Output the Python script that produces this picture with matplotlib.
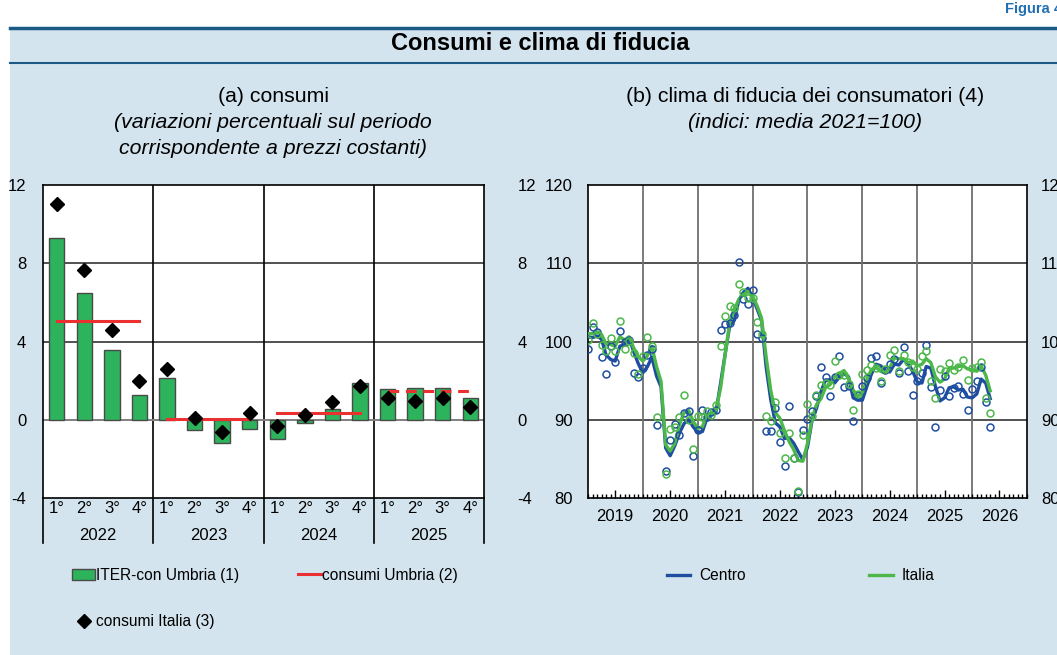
import numpy as np
import pandas as pd
import matplotlib
matplotlib.use('Agg')
import matplotlib.pyplot as plt
import matplotlib.dates as mdates
from matplotlib.patches import Rectangle, Patch
from matplotlib.lines import Line2D

plt.rcParams['font.family'] = ['Liberation Sans', 'DejaVu Sans']

# ---- (a) consumi: quarterly data 2022-2025
years = ['2022', '2023', '2024', '2025']
quarters = ['1°', '2°', '3°', '4°'] * 4
iter_umbria = [9.3, 6.5, 3.55, 1.25, 2.15, -0.5, -1.2, -0.45,
               -1.0, -0.15, 0.55, 1.9, 1.55, 1.6, 1.6, 1.1]
consumi_italia = [11.05, 7.65, 4.6, 2.0, 2.6, 0.1, -0.65, 0.35,
                  -0.3, 0.25, 0.9, 1.75, 1.1, 0.95, 1.1, 0.65]
consumi_umbria = [5.05, 0.02, 0.33, 1.48]   # annual
umbria_stima = [False, False, False, True]  # 2025 dashed

# ---- (b) clima di fiducia: monthly, Dec 2018 - Apr 2026 (Apr 2020 missing)
months = pd.period_range('2018-12', '2026-04', freq='M')
centro_pt = [99.0, 101.8, 101.2, 98.0, 95.8, 99.4, 97.4, 101.3, 100.0, 100.2, 96.0, 95.4,
             96.6, 98.3, 99.1, 89.3, np.nan, 83.4, 87.4, 89.4, 88.1, 90.9, 91.1, 85.4,
             88.7, 91.3, 90.4, 91.0, 91.3, 101.5, 102.2, 102.4, 103.4, 110.2, 105.4, 104.8,
             106.6, 101.0, 100.5, 88.6, 88.6, 91.5, 87.2, 84.1, 91.8, 85.1, 80.8, 88.7,
             90.1, 91.1, 93.0, 96.7, 95.5, 93.0, 95.5, 98.1, 94.2, 94.3, 89.9, 93.2,
             94.3, 95.3, 97.9, 98.2, 94.7, 96.4, 97.1, 97.8, 96.0, 99.3, 96.2, 93.2,
             94.9, 96.0, 99.6, 94.2, 89.1, 93.8, 95.6, 93.0, 94.0, 94.3, 93.3, 91.2,
             93.9, 94.9, 96.8, 92.3, 89.1]
italia_pt = [100.2, 102.4, 100.9, 99.5, 98.8, 100.5, 98.8, 102.6, 99.1, 100.1, 98.5, 95.8,
             98.2, 100.6, 99.4, 90.4, np.nan, 83.1, 88.8, 89.1, 90.4, 93.1, 90.0, 86.3,
             90.5, 90.4, 91.1, 90.6, 91.9, 99.4, 103.3, 104.6, 104.3, 107.3, 106.3, 105.5,
             105.5, 102.5, 100.9, 90.5, 89.9, 92.3, 88.3, 85.1, 88.3, 85.1, 80.9, 88.0,
             92.0, 90.5, 93.2, 94.4, 94.7, 94.4, 97.5, 95.7, 95.7, 94.6, 91.2, 93.3,
             95.9, 96.4, 97.0, 96.6, 95.0, 96.5, 98.3, 98.9, 96.2, 98.3, 97.4, 96.7,
             96.5, 98.2, 98.8, 95.0, 92.8, 96.5, 96.2, 97.2, 96.3, 96.8, 97.6, 95.1,
             96.6, 96.8, 97.4, 92.8, 90.8]
# 3-month moving averages as drawn in the chart
centro_mm = [100.6, 100.5, 100.7, 100.3, 98.3, 97.7, 97.5, 99.4, 99.6, 100.5, 98.7, 97.2,
             96.0, 96.8, 98.0, 95.6, 94.2, 86.4, 85.4, 86.7, 88.3, 89.5, 90.0, 89.1,
             88.4, 88.5, 90.1, 90.9, 90.9, 94.6, 98.3, 102.0, 102.7, 105.3, 106.3, 106.8,
             105.6, 104.1, 102.7, 96.7, 92.6, 89.6, 89.1, 87.6, 87.7, 87.0, 85.9, 84.9,
             86.5, 90.0, 91.4, 93.6, 95.1, 95.1, 94.7, 95.5, 95.9, 95.5, 92.8, 92.5,
             92.5, 94.3, 95.8, 97.1, 96.9, 96.4, 96.1, 97.1, 97.0, 97.7, 97.2, 96.2,
             94.8, 94.7, 96.8, 96.6, 94.3, 92.4, 92.8, 94.1, 94.2, 93.8, 93.9, 92.9,
             92.8, 93.3, 95.2, 94.7, 92.7]
italia_mm = [101.0, 101.0, 101.2, 100.9, 99.7, 99.6, 99.4, 100.6, 100.2, 100.6, 99.2, 98.1,
             97.5, 98.2, 99.4, 96.8, 94.9, 86.8, 86.0, 87.0, 89.4, 90.9, 91.2, 89.8,
             88.9, 89.1, 90.7, 90.7, 91.2, 94.0, 98.2, 102.4, 104.1, 105.4, 106.0, 106.4,
             105.8, 104.5, 103.0, 98.0, 93.8, 90.9, 90.2, 88.6, 87.2, 86.2, 84.8, 84.7,
             87.0, 90.2, 91.9, 92.7, 94.1, 94.5, 95.5, 95.9, 96.3, 95.3, 93.8, 93.0,
             93.5, 95.2, 96.4, 96.7, 96.2, 96.0, 96.6, 97.9, 97.8, 97.8, 97.3, 97.5,
             96.9, 97.1, 97.8, 97.3, 95.5, 94.8, 95.2, 96.6, 96.6, 96.8, 96.9, 96.5,
             96.4, 96.2, 96.9, 95.7, 93.7]

BG = '#d3e4ee'
DARK = '#1b5a87'
W, H = 1057, 655
FS_SUB = 15.3
FS_TICK = 12
FS_LEG = 11.2

fig = plt.figure(figsize=(W / 100, H / 100), dpi=100, facecolor='white')
fig.patches.append(Rectangle((10 / W, 0), 1, 1 - 28 / H, transform=fig.transFigure,
                             facecolor=BG, edgecolor='none', zorder=-5))
fig.add_artist(Line2D([10 / W, 1], [1 - 28 / H] * 2, color=DARK, lw=2.5))
fig.add_artist(Line2D([10 / W, 1], [1 - 63 / H] * 2, color=DARK, lw=1.5))
fig.text(1005 / W, 1 - 9 / H, 'Figura 4.', color='#1f6fb2', fontsize=10.5,
         fontweight='bold', va='center', ha='left')
fig.text(540 / W, 1 - 43 / H, 'Consumi e clima di fiducia', fontsize=17,
         fontweight='bold', ha='center', va='center')

fig.text(273 / W, 1 - 97 / H, '(a) consumi', fontsize=FS_SUB, ha='center', va='center')
fig.text(273 / W, 1 - 122 / H, '(variazioni percentuali sul periodo', fontsize=FS_SUB,
         style='italic', ha='center', va='center')
fig.text(273 / W, 1 - 148 / H, 'corrispondente a prezzi costanti)', fontsize=FS_SUB,
         style='italic', ha='center', va='center')
fig.text(805 / W, 1 - 97 / H, '(b) clima di fiducia dei consumatori (4)', fontsize=FS_SUB,
         ha='center', va='center')
fig.text(805 / W, 1 - 122 / H, '(indici: media 2021=100)', fontsize=FS_SUB,
         style='italic', ha='center', va='center')

# ---------------- panel (a)
ax1 = fig.add_axes([43 / W, 1 - 498 / H, 441 / W, 313 / H])
ax1.set_facecolor('white')
x = np.arange(len(iter_umbria))
ax1.set_xlim(-0.5, len(x) - 0.5)
ax1.set_ylim(-4, 12)
for yv in (4, 8):
    ax1.axhline(yv, color='#333333', lw=1.2, zorder=0)
for xv in (3.5, 7.5, 11.5):
    ax1.axvline(xv, color='black', lw=1.2, zorder=0)
ax1.axhline(0, color='#808080', lw=1.4, zorder=1)
ax1.bar(x, iter_umbria, width=0.56, color='#2cb35b', edgecolor='#4a4a4a', lw=1.0, zorder=2)
for i, (val, est) in enumerate(zip(consumi_umbria, umbria_stima)):
    ax1.plot([4 * i, 4 * i + 3], [val, val], color='#ea3030', lw=2.2, zorder=3,
             ls=(0, (3.5, 2.2)) if est else '-')
ax1.plot(x, consumi_italia, ls='none', marker='D', ms=7.5, color='black', zorder=4)

ax1.set_yticks([-4, 0, 4, 8, 12])
ax1.set_yticklabels(['-4', '0', '4', '8', '12'])
ax1.tick_params(axis='y', length=0, labelsize=FS_TICK, pad=12)
ax1.set_xticks([])
sec = ax1.secondary_yaxis('right')
sec.set_yticks([-4, 0, 4, 8, 12])
sec.set_yticklabels(['-4', '0', '4', '8', '12'])
sec.tick_params(length=0, labelsize=FS_TICK, pad=24)
sec.spines['right'].set_visible(False)
for s in ax1.spines.values():
    s.set_color('black')
    s.set_linewidth(1.2)

tr = ax1.get_xaxis_transform()
for i, q in enumerate(quarters):
    ax1.text(i, -0.033, q, transform=tr, ha='center', va='center', fontsize=FS_TICK)
for j, yr in enumerate(years):
    ax1.text(4 * j + 1.5, -0.12, yr, transform=tr, ha='center', va='center', fontsize=FS_TICK)
for xv in (-0.5, 3.5, 7.5, 11.5, 15.5):
    ax1.plot([xv, xv], [0, -0.145], transform=tr, color='black', lw=1.2, clip_on=False)

# ---------------- panel (b)
ax2 = fig.add_axes([588 / W, 1 - 498 / H, 439 / W, 313 / H])
ax2.set_facecolor('white')
dates = months.to_timestamp(how='end')
ax2.set_xlim(pd.Timestamp('2019-01-01'), pd.Timestamp('2027-01-01'))
ax2.set_ylim(80, 120)
for yv in (90, 100, 110):
    ax2.axhline(yv, color='#333333', lw=1.2, zorder=0)
for yr in range(2020, 2027):
    ax2.axvline(pd.Timestamp(f'{yr}-01-01'), color='#707070', lw=1.3, zorder=0)

ax2.plot(dates, centro_mm, color='#1f4ea1', lw=2.4, zorder=3)
ax2.plot(dates, italia_mm, color='#4cb84a', lw=2.4, zorder=4)
ax2.plot(dates, centro_pt, ls='none', marker='o', ms=5, mfc='none', mec='#1f4ea1',
         mew=1.1, zorder=5)
ax2.plot(dates, italia_pt, ls='none', marker='o', ms=5, mfc='none', mec='#4cb84a',
         mew=1.1, zorder=6)

ax2.xaxis.set_major_locator(mdates.MonthLocator(bymonth=7))
ax2.xaxis.set_major_formatter(mdates.DateFormatter('%Y'))
ax2.xaxis.set_minor_locator(mdates.MonthLocator())
ax2.tick_params(axis='x', which='major', direction='in', length=6, width=1,
                labelsize=FS_TICK, pad=8)
ax2.tick_params(axis='x', which='minor', direction='in', length=3, width=1)
ax2.set_yticks([80, 90, 100, 110, 120])
ax2.tick_params(axis='y', length=0, labelsize=FS_TICK, pad=11)
sec2 = ax2.secondary_yaxis('right')
sec2.set_yticks([80, 90, 100, 110, 120])
sec2.tick_params(length=0, labelsize=FS_TICK, pad=10)
sec2.spines['right'].set_visible(False)
for s in ax2.spines.values():
    s.set_color('black')
    s.set_linewidth(1.2)

# ---------------- legends
h_a = [Patch(facecolor='#2cb35b', edgecolor='#4a4a4a', lw=1.0),
       Line2D([], [], ls='none', marker='D', ms=7.5, color='black'),
       Line2D([], [], color='#ea3030', lw=2.2)]
l_a = ['ITER-con Umbria (1)', 'consumi Italia (3)', 'consumi Umbria (2)']
fig.legend(h_a, l_a, ncol=2, loc='upper left', bbox_to_anchor=(72 / W, 1 - 568 / H),
           frameon=False, fontsize=FS_LEG, handlelength=1.5, handleheight=0.75,
           handletextpad=0.05, columnspacing=3.75, labelspacing=2.0,
           borderpad=0, borderaxespad=0)
h_b = [Line2D([], [], color='#1f4ea1', lw=2.4), Line2D([], [], color='#4cb84a', lw=2.4)]
fig.legend(h_b, ['Centro', 'Italia'], ncol=2, loc='upper left',
           bbox_to_anchor=(667 / W, 1 - 568 / H), frameon=False, fontsize=FS_LEG,
           handlelength=1.5, handletextpad=0.6, columnspacing=7.9,
           borderpad=0, borderaxespad=0)

fig.savefig('out.png', dpi=100, facecolor=fig.get_facecolor())
